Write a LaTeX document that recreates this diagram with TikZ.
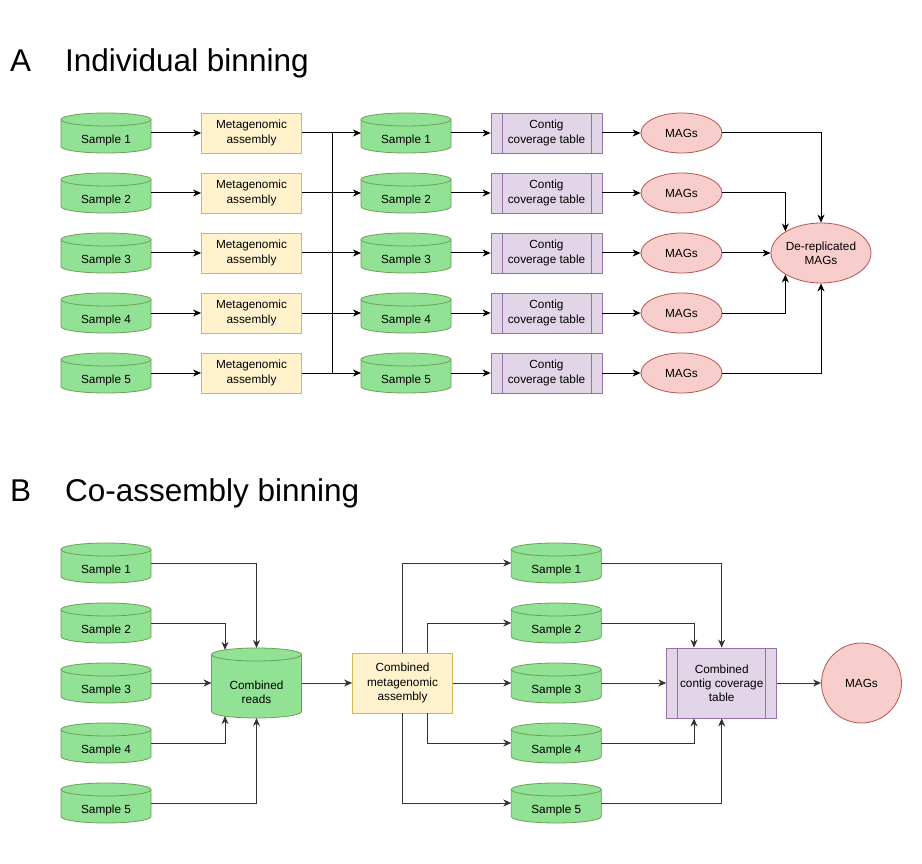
\documentclass[tikz,border=0pt]{standalone}
\usepackage{fontspec}
\setmainfont{Liberation Sans}
\usetikzlibrary{arrows.meta,shapes.geometric}
\definecolor{gfill}{RGB}{146,226,150}
\definecolor{gline}{RGB}{108,160,84}
\definecolor{yfill}{RGB}{255,242,204}
\definecolor{yline}{RGB}{214,182,86}
\definecolor{pfill}{RGB}{225,213,231}
\definecolor{pline}{RGB}{150,115,166}
\definecolor{rfill}{RGB}{248,206,204}
\definecolor{rline}{RGB}{184,84,80}
\tikzset{
  lbl/.style={font=\fontsize{11.8}{14.2}\selectfont, align=center, inner sep=0pt},
  cylbox/.style={rectangle, draw=none, inner sep=0pt, outer sep=0pt},
  asm/.style={lbl, rectangle, draw=yline, fill=yfill, line width=0.8pt},
  tbl/.style={lbl, rectangle, draw=pline, fill=pfill, line width=0.8pt,
    path picture={\draw[pline, line width=0.8pt]
      ([xshift=11pt]path picture bounding box.north west) -- ([xshift=11pt]path picture bounding box.south west)
      ([xshift=-11pt]path picture bounding box.north east) -- ([xshift=-11pt]path picture bounding box.south east);}},
  mag/.style={lbl, ellipse, draw=rline, fill=rfill, line width=0.8pt},
  conn/.style={line width=1pt, draw=black},
  connb/.style={line width=1pt, draw=black!80},
  arr/.style={-{Stealth[length=8pt,width=7pt,inset=2.5pt]}},
  title/.style={font=\fontsize{31.5}{36}\selectfont, anchor=base west, inner sep=0pt},
}
% name, cx, cy, w, h, text, text shift
\newcommand\cylnode[7]{%
  \node[cylbox, minimum width=#4pt, minimum height=#5pt] (#1) at (#2,#3) {};
  \filldraw[fill=gfill, draw=gline, line width=0.8pt]
    ([yshift=-6.5pt]#1.north west) -- ([yshift=6.5pt]#1.south west)
    arc[start angle=180, end angle=360, x radius={#4pt/2}, y radius=6.5pt]
    -- ([yshift=-6.5pt]#1.north east)
    arc[start angle=0, end angle=180, x radius={#4pt/2}, y radius=6.5pt] -- cycle;
  \draw[gline, line width=0.8pt] ([yshift=-6.5pt]#1.north west)
    arc[start angle=180, end angle=360, x radius={#4pt/2}, y radius=6.5pt];
  \node[lbl] (#1t) at ([yshift=-#7pt]#1.center) {#6};
}
\begin{document}
\begin{tikzpicture}[x=1pt, y=1pt]
\useasboundingbox (0,0) rectangle (922,-864);
\fill[white] (0,0) rectangle (922,-864);

% ---------- Part A ----------
\node[title] (tA) at (10,-71.7) {A};
\node[title] (tAi) at (65,-71.7) {Individual binning};

\foreach \i/\y in {1/133, 2/193, 3/253, 4/313, 5/373} {
  \cylnode{sa\i}{106}{-\y}{90}{40}{Sample \i}{7}
  \node[asm, minimum width=100pt, minimum height=40pt] (ma\i) at (251.5,-\y) {Metagenomic\\assembly};
  \coordinate (bus\i) at (332,-\y);
  \cylnode{sb\i}{406}{-\y}{90}{40}{Sample \i}{7}
  \node[tbl, minimum width=111pt, minimum height=40pt] (ca\i) at (546.5,-\y) {Contig\\coverage table};
  \node[mag, minimum width=81pt, minimum height=40pt] (ga\i) at (681.5,-\y) {MAGs};
  \draw[conn, arr] (sa\i.east) -- (ma\i.west);
  \draw[conn] (ma\i.east) -- (bus\i);
  \draw[conn, arr] (bus\i) -- (sb\i.west);
  \draw[conn, arr] (sb\i.east) -- (ca\i.west);
  \draw[conn, arr] (ca\i.east) -- (ga\i.west);
}
\draw[conn] (bus1) -- (bus5);
\node[mag, minimum width=100pt, minimum height=60pt] (dr) at (821,-253) {De-replicated\\MAGs};
\draw[conn, arr] (ga1.east) -| (dr.north);
\draw[conn, arr] (ga2.east) -| (dr.north west);
\draw[conn, arr] (ga3.east) -- (dr.west);
\draw[conn, arr] (ga4.east) -| (dr.south west);
\draw[conn, arr] (ga5.east) -| (dr.south);

% ---------- Part B ----------
\node[title] (tB) at (10,-501.7) {B};
\node[title] (tBi) at (65,-501.7) {Co-assembly binning};

\foreach \i/\y in {1/563, 2/623, 3/683, 4/743, 5/803} {
  \cylnode{sl\i}{106}{-\y}{90}{40}{Sample \i}{7}
  \cylnode{sr\i}{556.3}{-\y}{90}{40}{Sample \i}{7}
}
\cylnode{cr}{256.5}{-683}{90}{70}{Combined\\reads}{9}
\node[asm, minimum width=100pt, minimum height=60pt] (cma) at (402.5,-683) {Combined\\metagenomic\\assembly};
\node[tbl, minimum width=110pt, minimum height=70pt] (ct) at (721.7,-683) {Combined\\contig coverage\\table};
\node[mag, circle, minimum size=80pt] (mg) at (861.5,-683) {MAGs};

\draw[connb, arr] (sl1.east) -| (cr.north);
\draw[connb, arr] (sl2.east) -| ([xshift=-31.5pt, yshift=-1.9pt]cr.north);
\draw[connb, arr] (sl3.east) -- (cr.west);
\draw[connb, arr] (sl4.east) -| ([xshift=-31.5pt, yshift=1.9pt]cr.south);
\draw[connb, arr] (sl5.east) -| (cr.south);
\draw[connb, arr] (cr.east) -- (cma.west);

\draw[connb, arr] (cma.north) |- (sr1.west);
\draw[connb, arr] ([xshift=24.8pt]cma.north) |- (sr2.west);
\draw[connb, arr] (cma.east) -- (sr3.west);
\draw[connb, arr] ([xshift=24.8pt]cma.south) |- (sr4.west);
\draw[connb, arr] (cma.south) |- (sr5.west);

\draw[connb, arr] (sr1.east) -| (ct.north);
\draw[connb, arr] (sr2.east) -| ([xshift=-27.7pt]ct.north);
\draw[connb, arr] (sr3.east) -- (ct.west);
\draw[connb, arr] (sr4.east) -| ([xshift=-27.7pt]ct.south);
\draw[connb, arr] (sr5.east) -| (ct.south);
\draw[connb, arr] (ct.east) -- (mg.west);
\end{tikzpicture}
\end{document}
